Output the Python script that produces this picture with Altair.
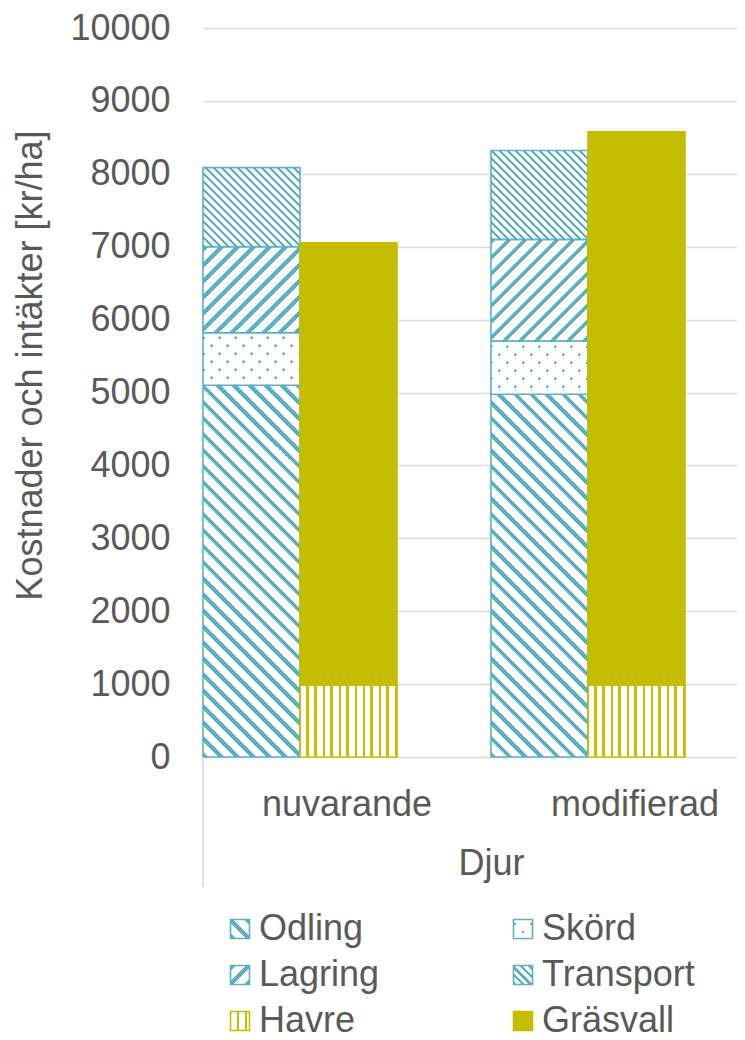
import math
import altair as alt
import pandas as pd

# ---------------- data ----------------
djur = ["nuvarande", "modifierad"]
typer = ["Kostnader", "Intäkter"]
kost_serier = ["Odling", "Skörd", "Lagring", "Transport"]
odling = [5100, 4975]
skord = [720, 730]
lagring = [1180, 1395]
transport = [1085, 1220]
intakt_serier = ["Havre", "Gräsvall"]
havre = [985, 985]
grasvall = [6070, 7590]
y_ticks = list(range(0, 10001, 1000))
legend_order = ["Odling", "Skörd", "Lagring", "Transport", "Havre", "Gräsvall"]

# ---------------- style ----------------
TEAL = "#5BAFC7"
OLIVE = "#C5BD00"
WHITE = "#FFFFFF"
CLEAR = "rgba(255,255,255,0)"
GRID = "#D9D9D9"
TEXT = "#595959"
FONT = "Liberation Sans"
FS = 36

PLOT_W = 534
PLOT_H = 729
YMAX = 10000
STEP = 288
BAR_W = 97
PX = PLOT_H / YMAX
R2 = math.sqrt(2)

rows = []
kost_vals = {"Odling": odling, "Skörd": skord, "Lagring": lagring, "Transport": transport}
int_vals = {"Havre": havre, "Gräsvall": grasvall}
for i, d in enumerate(djur):
    cum = 0
    for s in kost_serier:
        v = kost_vals[s][i]
        rows.append(dict(Djur=d, Typ="Kostnader", Serie=s, start=cum, end=cum + v, key=f"{d}|{s}"))
        cum += v
    cum = 0
    for s in intakt_serier:
        v = int_vals[s][i]
        rows.append(dict(Djur=d, Typ="Intäkter", Serie=s, start=cum, end=cum + v, key=f"{d}|{s}"))
        cum += v
df = pd.DataFrame(rows)


# ---------------- pattern gradients ----------------
def stops_for(length, period, width, line, bg, phase=0.0):
    segs = []
    k = -2
    marks = []
    while True:
        a = phase + k * period
        b = a + width
        if a > length:
            break
        marks.append((a, b))
        k += 1
    cur = 0.0
    for a, b in marks:
        a2, b2 = max(a, 0.0), min(b, length)
        if b2 <= 0 or a2 >= length:
            continue
        if a2 > cur:
            segs.append((cur, a2, bg))
        segs.append((a2, b2, line))
        cur = b2
    if cur < length:
        segs.append((cur, length, bg))
    stops = []
    for t0, t1, c in segs:
        stops.append(alt.GradientStop(offset=round(t0 / length, 5), color=c))
        stops.append(alt.GradientStop(offset=round(t1 / length, 5), color=c))
    return stops


def grad_down(w, h, period, width, line, bg, phase=0.0):
    # "\" stripes
    s = (w + h) / (w * w + h * h)
    return alt.LinearGradient(gradient="linear", x1=0, y1=1, x2=round(w * s, 6), y2=round(1 - h * s, 6),
                              stops=stops_for((w + h) / R2, period, width, line, bg, phase))


def grad_up(w, h, period, width, line, bg, phase=0.0):
    # "/" stripes
    s = (w + h) / (w * w + h * h)
    return alt.LinearGradient(gradient="linear", x1=0, y1=0, x2=round(w * s, 6), y2=round(h * s, 6),
                              stops=stops_for((w + h) / R2, period, width, line, bg, phase))


def grad_vert(w, h, period, width, line, bg, phase=0.0):
    return alt.LinearGradient(gradient="linear", x1=0, y1=0, x2=1, y2=0,
                              stops=stops_for(w, period, width, line, bg, phase))


P_WIDE = 16 / R2
P_DARK = 8 / R2


def fills_for(serie, w, h):
    """list of (fill, stroke) layers drawn bottom to top"""
    if serie == "Odling":
        return [(grad_down(w, h, P_WIDE, 3.6, TEAL, WHITE), TEAL)]
    if serie == "Lagring":
        return [(grad_up(w, h, P_WIDE, 3.8, TEAL, WHITE), TEAL)]
    if serie == "Transport":
        return [(grad_down(w, h, P_DARK, 2.4, TEAL, WHITE), TEAL)]
    if serie == "Skörd":
        return [(WHITE, None),
                (grad_up(w, h, P_WIDE, 2.2, TEAL, CLEAR, 3.0), None),
                (grad_down(w, h, P_WIDE, P_WIDE - 2.2, WHITE, CLEAR, 1.0), TEAL)]
    if serie == "Havre":
        return [(grad_vert(w, h, 8, 2.2, OLIVE, WHITE, 6.5), OLIVE)]
    return [(OLIVE, OLIVE)]


# ---------------- scales / axes ----------------
x_scale = alt.Scale(domain=djur, range=[0, 2 * STEP], paddingInner=0, paddingOuter=0)
xo_scale = alt.Scale(domain=typer, range=[0, 2 * BAR_W], paddingInner=0, paddingOuter=0)
y_scale = alt.Scale(domain=[0, YMAX], nice=False, zero=True)

x_axis = alt.Axis(title="Djur", labelAngle=0, ticks=False, domain=False, grid=False,
                  labelFontSize=FS, labelColor=TEXT, labelFont=FONT, labelPadding=30,
                  titleFontSize=FS, titleColor=TEXT, titleFont=FONT, titleFontWeight="normal",
                  titlePadding=24)
y_axis = alt.Axis(values=y_ticks, format="d", title="Kostnader och intäkter [kr/ha]",
                  grid=True, gridColor=GRID, gridWidth=1.6, domain=False, ticks=False,
                  labelFontSize=FS, labelColor=TEXT, labelFont=FONT, labelPadding=33,
                  titleFontSize=FS, titleColor=TEXT, titleFont=FONT, titleFontWeight="normal",
                  titleAngle=-90, titleX=-173, titleY=337, titleAlign="center",
                  titleBaseline="middle")

base = alt.Chart(df)
layers = []
first = True
for r in rows:
    h = (r["end"] - r["start"]) * PX
    for fill, stroke in fills_for(r["Serie"], BAR_W, h):
        kw = dict(fill=fill, strokeWidth=1.6)
        if stroke:
            kw["stroke"] = stroke
        else:
            kw["strokeWidth"] = 0
        xe = alt.X("Djur:N", sort=djur, scale=x_scale, axis=x_axis if first else None)
        ye = alt.Y("start:Q", scale=y_scale, axis=y_axis if first else None)
        first = False
        layers.append(
            base.transform_filter(alt.datum.key == r["key"])
            .mark_bar(**kw)
            .encode(x=xe, xOffset=alt.XOffset("Typ:N", sort=typer, scale=xo_scale), y=ye, y2="end:Q")
        )

divider = alt.Chart(pd.DataFrame({"d": [0]})).mark_rule(color=GRID, strokeWidth=1.6).encode(
    x=alt.value(0), y=alt.value(PLOT_H), y2=alt.value(PLOT_H + 130))

# ---------------- legend (own scales, in plot pixels) ----------------
leg_rows = []
for i, s in enumerate(legend_order):
    leg_rows.append(dict(Serie=s, col=i % 2, row=i // 2))
ldf = pd.DataFrame(leg_rows)
SYM = 19
lx = alt.X("col:Q", scale=alt.Scale(domain=[0, 1], range=[37, 320]), axis=None)
ly = alt.Y("row:Q", scale=alt.Scale(domain=[0, 2], range=[901, 993]), axis=None)
lbase = alt.Chart(ldf)
leg_layers = []
for s in legend_order:
    for fill, stroke in fills_for(s, SYM, SYM):
        kw = dict(shape="square", size=SYM * SYM, filled=True, fill=fill, opacity=1, fillOpacity=1)
        if stroke:
            kw["stroke"] = stroke
            kw["strokeWidth"] = 1.6
        else:
            kw["strokeWidth"] = 0
        leg_layers.append(
            lbase.transform_filter(alt.datum.Serie == s).mark_point(**kw).encode(x=lx, y=ly)
        )
leg_text = lbase.mark_text(align="left", baseline="middle", dx=19, fontSize=FS, color=TEXT, font=FONT).encode(
    x=lx, y=ly, text="Serie:N")

chart = (
    alt.layer(*layers, divider, *leg_layers, leg_text)
    .resolve_scale(x="independent", y="independent")
    .properties(
        width=PLOT_W, height=PLOT_H,
        autosize=alt.AutoSizeParams(type="none"),
        padding={"left": 195, "top": 20, "right": 0, "bottom": 283},
    )
    .configure_view(stroke=None)
)

chart.save("out.html", embed_options={"renderer": "svg", "actions": False})
